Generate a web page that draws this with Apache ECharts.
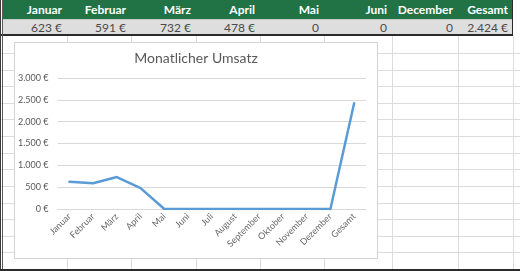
<!DOCTYPE html>
<html><head><meta charset="utf-8">
<script src="https://cdn.jsdelivr.net/npm/echarts@6/dist/echarts.min.js"></script>
<style>
html,body{margin:0;padding:0;background:#fff;}
body{width:520px;height:271px;position:relative;overflow:hidden;font-family:Lato,"Open Sans",sans-serif;}
.abs{position:absolute;}
.hl{position:absolute;left:0;width:520px;height:1px;background:#dcdcdc;}
.vl{position:absolute;top:35px;height:236px;width:1px;background:#dcdcdc;}
.hd{position:absolute;top:0;height:19px;line-height:20px;color:#fff;font-weight:bold;font-size:12px;text-align:right;}
.vc{position:absolute;top:20px;height:14px;line-height:15px;color:#4a4a4a;font-size:12px;text-align:right;}
</style></head>
<body>
<div id="sheet"></div>
<div class="abs" style="left:14px;top:42px;width:362px;height:215px;border:1px solid #d4d4d4;background:#fff;"></div>
<div id="chart" class="abs" style="left:15px;top:43px;width:362px;height:215px;"></div>
<script>
// spreadsheet row
const sheetHeaders = ["Januar","Februar","März","April","Mai","Juni","December","Gesamt"];
const sheetValues = ["623 €","591 €","732 €","478 €","0","0","0","2.424 €"];
// chart data
const categories = ["Januar","Februar","März","April","Mai","Juni","Juli","August","September","Oktober","November","Dezember","Gesamt"];
const umsatz = [623,591,732,478,0,0,0,0,0,0,0,0,2424];
const chartTitle = "Monatlicher Umsatz";

// sheet layout
const colRight = [67,131,196,260,324,392,458,513];
const rowLines = [53,70,86,103,119,136,153,169,186,203,219,236,252];
const sheet = document.getElementById('sheet');
let html = '';
rowLines.forEach(y=>{ html += `<div class="hl" style="top:${y}px"></div>`; });
colRight.forEach(x=>{ html += `<div class="vl" style="left:${x}px"></div>`; });
html += `<div class="abs" style="left:2px;top:0;width:510px;height:19px;background:#217346;"></div>`;
html += `<div class="abs" style="left:2px;top:19px;width:510px;height:1px;background:#c8c8c8;"></div>`;
html += `<div class="abs" style="left:2px;top:20px;width:510px;height:14px;background:#dedede;"></div>`;
html += `<div class="abs" style="left:0;top:34px;width:513px;height:2px;background:#2b2b2b;"></div>`;
html += `<div class="abs" style="left:512px;top:0;width:1px;height:36px;background:#2b2b2b;"></div>`;
html += `<div class="abs" style="left:0;top:0;width:1px;height:271px;background:#3a3a3a;"></div>`;
html += `<div class="abs" style="left:2px;top:0;width:1px;height:271px;background:#5a5a5a;"></div>`;
html += `<div class="abs" style="left:0;top:269px;width:520px;height:2px;background:#2b2b2b;"></div>`;
let prev = 2;
sheetHeaders.forEach((h,i)=>{
  const r = colRight[i];
  const w = r - prev - 5;
  html += `<div class="hd" style="left:${prev}px;width:${w}px">${h}</div>`;
  html += `<div class="vc" style="left:${prev}px;width:${w}px">${sheetValues[i]}</div>`;
  prev = r;
});
sheet.innerHTML = html;

function fmt(v){ return String(v).replace(/\B(?=(\d{3})+(?!\d))/g,'.') + ' €'; }

const chart = echarts.init(document.getElementById('chart'), null, {renderer:'canvas'});
chart.setOption({
  animation:false,
  backgroundColor:'#fff',
  textStyle:{fontFamily:'Lato'},
  title:{text:chartTitle,left:'center',top:3,textStyle:{fontSize:14,fontWeight:'normal',color:'#595959',fontFamily:'Lato'}},
  grid:{left:41,top:35,width:310,height:131,containLabel:false},
  xAxis:{type:'category',data:categories,boundaryGap:true,
    axisLine:{show:true,lineStyle:{color:'#d9d9d9',width:1}},
    axisTick:{show:false},
    axisLabel:{interval:0,rotate:45,fontSize:9,color:'#666666',margin:6,fontFamily:'Lato'}},
  yAxis:{type:'value',min:0,max:3000,interval:500,
    axisLine:{show:false},axisTick:{show:false},
    splitLine:{lineStyle:{color:'#d9d9d9',width:1}},
    axisLabel:{fontSize:9,color:'#595959',margin:9,formatter:fmt,fontFamily:'Lato'}},
  series:[{type:'line',data:umsatz,showSymbol:false,symbol:'none',
    lineStyle:{color:'#5b9bd5',width:2.5,cap:'round',join:'round'},itemStyle:{color:'#5b9bd5'}}]
});
</script>
</body></html>
